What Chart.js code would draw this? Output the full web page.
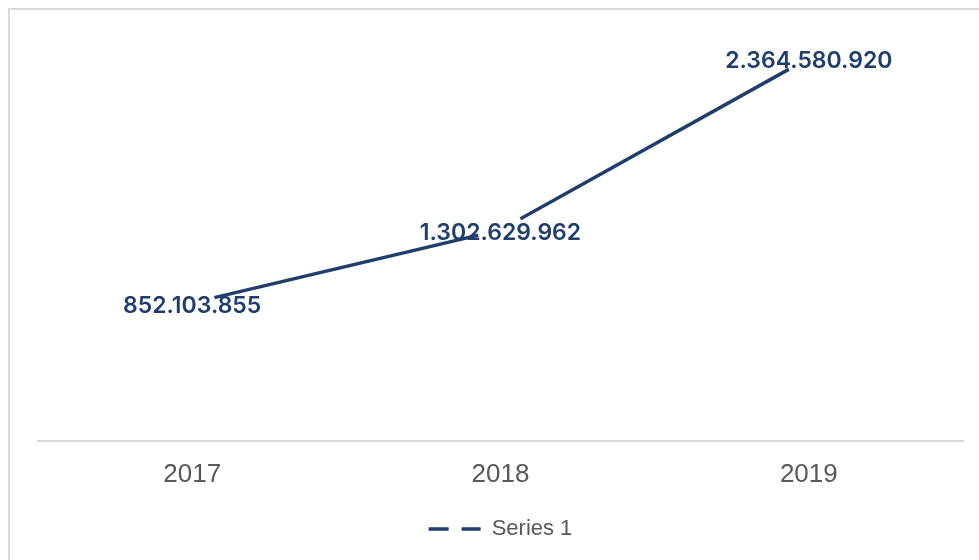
<!DOCTYPE html>
<html>
<head>
<meta charset="utf-8">
<script src="https://cdn.jsdelivr.net/npm/chart.js@4"></script>
<style>
  html, body { margin: 0; padding: 0; background: #fff; overflow: hidden; }
  #frame { position: absolute; left: 8px; top: 8px; width: 1000px; height: 600px;
           border-left: 2px solid #d9d9d9; border-top: 2px solid #d9d9d9; }
  #chart { position: absolute; left: 0; top: 0; }
</style>
</head>
<body>
<div id="frame"></div>
<canvas id="chart" width="979" height="560"></canvas>
<script>
var years = ['2017', '2018', '2019'];
var series1 = [852103855, 1302629962, 2364580920];
var seriesName = 'Series 1';

var lineColor = '#1f3e6e';

function fmt(n) {
    return String(n).replace(/\B(?=(\d{3})+(?!\d))/g, '.');
}

// value labels drawn on top of the points
var valueLabels = {
    id: 'valueLabels',
    afterDatasetsDraw: function(chart) {
        var ctx = chart.ctx;
        var meta = chart.getDatasetMeta(0);
        ctx.save();
        ctx.font = '600 23px Inter';
        ctx.fillStyle = lineColor;
        ctx.textAlign = 'center';
        ctx.textBaseline = 'middle';
        meta.data.forEach(function(pt, i) {
            ctx.fillText(fmt(series1[i]), pt.x, pt.y + 3);
        });
        ctx.restore();
    }
};

new Chart(document.getElementById('chart'), {
    type: 'line',
    data: {
        labels: years,
        datasets: [{
            label: seriesName,
            data: series1,
            borderColor: lineColor,
            borderWidth: 3.5,
            tension: 0,
            pointRadius: 23,
            pointHoverRadius: 23,
            pointBackgroundColor: '#ffffff',
            pointBorderWidth: 0,
            pointBorderColor: 'rgba(0,0,0,0)'
        }]
    },
    options: {
        responsive: false,
        animation: false,
        layout: { autoPadding: false, padding: { left: 38, right: 16, top: 20, bottom: 10 } },
        scales: {
            x: {
                offset: true,
                grid: { display: false, drawTicks: false },
                border: { display: true, color: '#d9d9d9', width: 2 },
                ticks: { color: '#595959', padding: 18, font: { family: 'Liberation Sans', size: 26 } }
            },
            y: {
                display: false,
                min: 0,
                max: 2600000000
            }
        },
        plugins: {
            legend: {
                position: 'bottom',
                labels: {
                    color: '#595959',
                    font: { family: 'Liberation Sans', size: 22 },
                    usePointStyle: true,
                    pointStyleWidth: 52,
                    padding: 10,
                    generateLabels: function(chart) {
                        var items = Chart.defaults.plugins.legend.labels.generateLabels(chart);
                        items.forEach(function(it) {
                            it.pointStyle = 'line';
                            it.lineDash = [20, 13];
                            it.lineWidth = 3.5;
                            it.strokeStyle = lineColor;
                        });
                        return items;
                    }
                }
            },
            tooltip: { enabled: false }
        }
    },
    plugins: [valueLabels]
});
</script>
</body>
</html>
